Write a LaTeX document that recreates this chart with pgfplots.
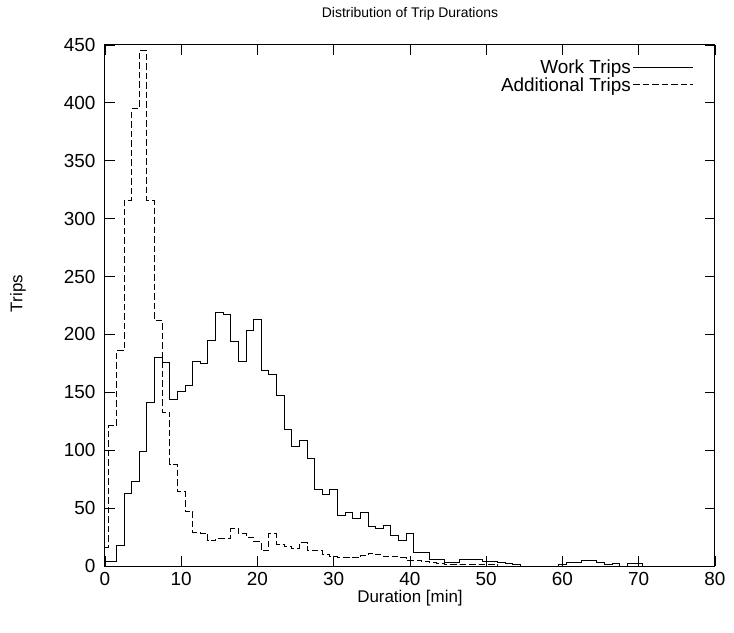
\documentclass[border=0pt]{standalone}
\usepackage{fontspec}
\setmainfont{Liberation Sans}
\usepackage{pgfplots}
\pgfplotsset{compat=1.18}

\pgfplotstableread{
x y
0 4
1 4
2 18
3 63
4 73
5 99
6 141
7 180
8 176
9 144
10 151
11 156
12 177
13 175
14 195
15 219
16 217
17 194
18 177
19 203
20 213
21 169
22 165
23 147
24 118
25 103
26 108
27 93
28 66
29 62
30 66
31 44
32 46
33 41
34 46
35 34
36 32
37 35
38 26
39 22
40 28
41 12
42 12
43 6
44 6
45 3
46 3
47 6
48 6
49 6
50 4
51 4
52 3
53 2
54 1
55 0
56 0
57 0
58 0
59 0
60 1
61 3
62 3
63 5
64 5
65 3
66 1
67 2
68 0
69 2
70 2
71 0
72 0
80 0
}\worktrips

\pgfplotstableread{
x y
0 16
1 121
2 186
3 316
4 395
5 445
6 316
7 212
8 133
9 88
10 64
11 47
12 29
13 28
14 22
15 24
16 24
17 32
18 28
19 25
20 21
21 13
22 28
23 19
24 17
25 15
26 20
27 13
28 13
29 10
30 8
31 7
32 7
33 7
34 9
35 11
36 10
37 8
38 8
39 7
40 5
41 5
42 4
43 3
44 2
45 1
46 1
47 1
48 1
49 1
50 1
51 1
52 0
80 0
}\addtrips

\begin{document}
\begin{tikzpicture}
\begin{axis}[
  scale only axis, width=610bp, height=521bp,
  xmin=0, xmax=80, ymin=0, ymax=450,
  xtick={0,10,...,80}, ytick={0,50,...,450},
  tick align=inside, major tick length=10bp,
  axis line style={line width=1bp},
  tick style={line width=0.8bp, black},
  font=\fontsize{17}{20}\selectfont,
  tick label style={font=\fontsize{19}{22}\selectfont},
  /pgf/number format/assume math mode=true,
  xticklabel style={yshift=-3bp},
  yticklabel style={xshift=-6bp},
  title={Distribution of Trip Durations},
  title style={at={(axis description cs:0.5,1)}, anchor=center, yshift=25bp,
               font=\fontsize{14}{16}\selectfont},
  xlabel={Duration [min]},
  xlabel style={at={(axis description cs:0.5,0)}, anchor=center, yshift=-32bp},
  ylabel={Trips},
  ylabel style={at={(axis description cs:0,0.5)}, anchor=center,
                yshift=87bp, xshift=12bp},
  legend style={draw=none, fill=none, at={(1,1)}, anchor=north east,
                xshift=-18bp, yshift=-11bp, font=\fontsize{19}{21}\selectfont,
                row sep=-2bp,
                /tikz/every even column/.append style={column sep=12bp}},
  legend plot pos=right,
  legend cell align=right,
  legend image code/.code={\draw[#1] (0bp,0bp) -- (60bp,0bp);},
]
\coordinate (O) at (axis cs:0,0);
\addplot[const plot mark mid, black, line width=1bp] table {\worktrips};
\addlegendentry{Work Trips}
\addplot[const plot mark mid, black, line width=1bp, dash pattern=on 6.5bp off 3bp] table {\addtrips};
\addlegendentry{Additional Trips}
\end{axis}
\pgfresetboundingbox
\path[use as bounding box] ([shift={(-105bp,-67bp)}]O) rectangle ++(734bp,633bp);
\end{tikzpicture}
\end{document}
